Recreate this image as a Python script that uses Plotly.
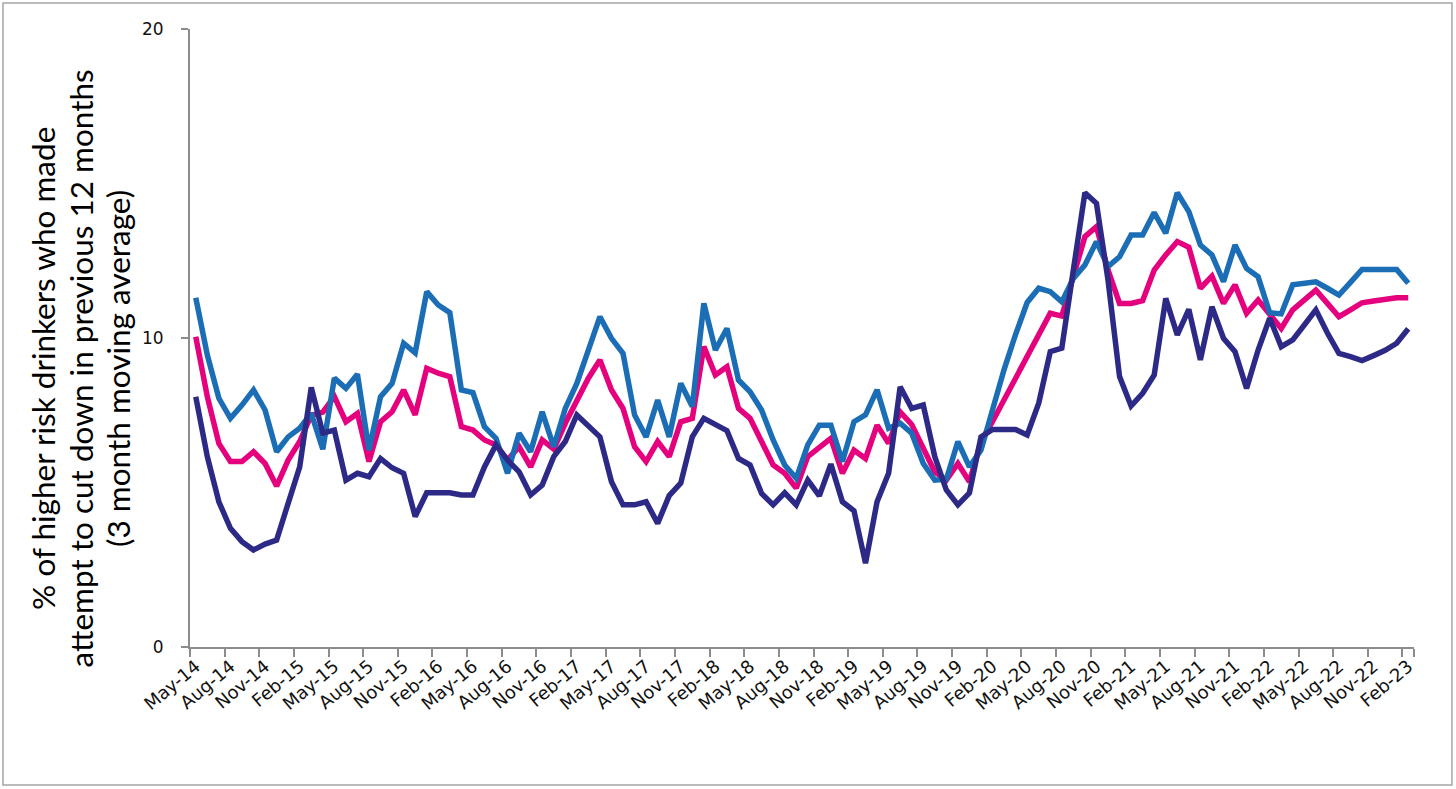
import plotly.graph_objects as go

# ---- categories (monthly, May-14 .. Feb-23) ----
month_abbr = ["Jan", "Feb", "Mar", "Apr", "May", "Jun",
              "Jul", "Aug", "Sep", "Oct", "Nov", "Dec"]
months = []
for yr in range(14, 24):
    for mi, m in enumerate(month_abbr):
        if yr == 14 and mi < 4:
            continue
        if yr == 23 and mi > 1:
            continue
        months.append(f"{m}-{yr}")

tick_labels = months[::3]

# ---- series values (% , 3 month moving average) ----
series_blue = [
    11.3, 9.45, 8.05, 7.4, 7.83, 8.32, 7.67, 6.32, 6.8, 7.08,
    7.56, 6.4, 8.7, 8.37, 8.83, 6.37, 8.1, 8.53, 9.83, 9.52,
    11.5, 11.07, 10.82, 8.32, 8.23, 7.13, 6.75, 5.62, 6.92, 6.32,
    7.61, 6.48, 7.72, 8.53, 9.61, 10.69, 9.99, 9.5, 7.51, 6.8,
    7.99, 6.8, 8.53, 7.78, 11.12, 9.61, 10.31, 8.64, 8.26, 7.67,
    6.7, 5.89, 5.46, 6.54, 7.18, 7.18, 6.0, 7.29, 7.51, 8.32,
    7.08, 7.24, 6.92, 5.94, 5.4, 5.43, 6.65, 5.83, 6.37, 7.75,
    8.98, 10.12, 11.15, 11.61, 11.5, 11.17, 11.93, 12.36, 13.12, 12.31,
    12.63, 13.33, 13.33, 14.06, 13.39, 14.7, 14.09, 13.01, 12.69, 11.82,
    13.01, 12.25, 11.98, 10.82, 10.78, 11.72, 11.77, 11.82, 11.61, 11.39,
    11.8, 12.22, 12.22, 12.22, 12.22, 11.77,
]

series_pink = [
    10.04, 8.1, 6.59, 6.0, 6.0, 6.32, 5.94, 5.21, 6.05, 6.65,
    7.5, 7.6, 8.1, 7.29, 7.56, 6.0, 7.29, 7.61, 8.32, 7.51,
    9.02, 8.86, 8.75, 7.13, 7.02, 6.7, 6.54, 6.05, 6.48, 5.83,
    6.7, 6.4, 7.24, 7.99, 8.7, 9.29, 8.32, 7.72, 6.48, 6.0,
    6.65, 6.16, 7.29, 7.4, 9.72, 8.8, 9.07, 7.72, 7.4, 6.65,
    5.89, 5.62, 5.14, 6.16, 6.48, 6.75, 5.62, 6.37, 6.1, 7.18,
    6.59, 7.61, 7.2, 6.43, 5.67, 5.4, 5.94, 5.35, 6.65, 7.3,
    8.0, 8.7, 9.4, 10.1, 10.8, 10.71, 12.04, 13.28, 13.6, 12.2,
    11.12, 11.12, 11.21, 12.2, 12.69, 13.12, 12.94, 11.61, 12.0, 11.12,
    11.72, 10.8, 11.23, 10.8, 10.31, 10.91, 11.23, 11.55, 11.12, 10.69,
    10.91, 11.14, 11.2, 11.25, 11.3, 11.3,
]

series_navy = [
    8.1, 6.16, 4.7, 3.84, 3.41, 3.14, 3.33, 3.46, 4.65, 5.83,
    8.4, 6.92, 7.02, 5.4, 5.62, 5.51, 6.1, 5.8, 5.62, 4.22,
    4.99, 4.99, 4.99, 4.92, 4.92, 5.83, 6.54, 6.05, 5.67, 4.92,
    5.24, 6.16, 6.65, 7.51, 7.18, 6.8, 5.35, 4.6, 4.6, 4.7,
    4.0, 4.9, 5.3, 6.8, 7.4, 7.22, 7.0, 6.1, 5.89, 4.97,
    4.6, 4.99, 4.6, 5.4, 4.89, 5.92, 4.7, 4.41, 2.71, 4.7,
    5.62, 8.42, 7.72, 7.83, 6.16, 5.08, 4.6, 4.99, 6.8, 7.04,
    7.04, 7.04, 6.86, 7.89, 9.56, 9.67, 12.2, 14.7, 14.36, 11.88,
    8.75, 7.8, 8.21, 8.8, 11.28, 10.1, 10.93, 9.29, 11.01, 9.99,
    9.56, 8.37, 9.61, 10.64, 9.72, 9.94, 10.42, 10.91, 10.16, 9.5,
    9.4, 9.27, 9.43, 9.6, 9.83, 10.3,
]

y_ticks = [0, 10, 20]
y_title_lines = [
    "% of higher risk drinkers who made",
    "attempt to cut down in previous 12 months",
    "(3 month moving average)",
]

fig = go.Figure()
for name, vals, col in [
    ("Series 2", series_pink, "#e5007e"),
    ("Series 1", series_blue, "#1b6db5"),
    ("Series 3", series_navy, "#2c2a86"),
]:
    fig.add_trace(go.Scatter(
        x=months, y=vals, mode="lines", name=name,
        line=dict(color=col, width=5.5, shape="linear"),
        showlegend=False,
    ))

title_annotations = []
for k, line in enumerate(y_title_lines):
    title_annotations.append(dict(
        text=line, textangle=-90, showarrow=False,
        xref="paper", yref="paper", x=0, y=0.45,
        xanchor="center", yanchor="middle", xshift=-147 + 37.5 * k,
        font=dict(family="Lato", size=31.5, color="#000000"),
    ))

axis_grey = "#8c8c8c"
fig.update_layout(
    width=1456, height=789, autosize=False,
    paper_bgcolor="white", plot_bgcolor="white",
    margin=dict(l=190, r=42, t=29, b=142),
    font=dict(family="DejaVu Sans", color="#1a1a1a"),
    xaxis=dict(
        type="category",
        range=[-0.5, len(months) - 0.5],
        tickmode="array", tickvals=tick_labels, ticktext=tick_labels,
        tickson="boundaries",
        ticks="outside", ticklen=8, tickwidth=1.5, tickcolor=axis_grey,
        showline=True, linecolor=axis_grey, linewidth=2,
        showgrid=False, zeroline=False,
        tickangle=-40,
        tickfont=dict(family="DejaVu Sans", size=18, color="#111111"),
    ),
    yaxis=dict(
        range=[0, 20],
        tickmode="array", tickvals=y_ticks,
        ticks="outside", ticklen=7, tickwidth=1.5, tickcolor=axis_grey,
        showline=True, linecolor=axis_grey, linewidth=2,
        showgrid=False, zeroline=False,
        ticklabelstandoff=14,
        tickfont=dict(family="DejaVu Sans", size=17, color="#111111"),
    ),
    annotations=title_annotations,
    shapes=[dict(
        type="rect", xref="paper", yref="paper",
        x0=-0.1528, x1=1.031, y0=-0.2233, y1=1.042,
        line=dict(color="#a6a6a6", width=1.5), fillcolor="rgba(0,0,0,0)",
        layer="below",
    )],
)

fig.write_html(
    "out.html",
    config={"displayModeBar": False},
    post_script="document.body.style.margin='0';document.body.style.overflow='hidden';",
)
